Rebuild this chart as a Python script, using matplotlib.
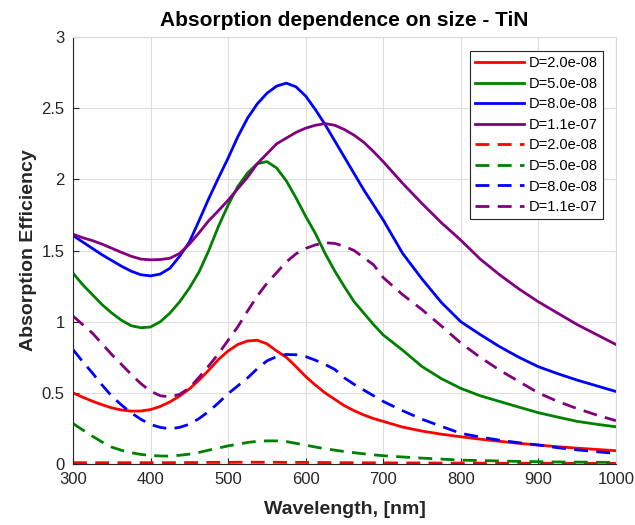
import matplotlib
matplotlib.use("Agg")
import matplotlib.pyplot as plt
from matplotlib.ticker import FuncFormatter

plt.rcParams['font.family'] = ['Liberation Sans', 'DejaVu Sans']

# Wavelength grid (nm)
wavelength = [300, 312.5, 325, 337.5, 350, 362.5, 375, 387.5, 400, 412.5, 425, 437.5,
              450, 462.5, 475, 487.5, 500, 512.5, 525, 537.5, 550, 562.5, 575, 587.5,
              600, 612.5, 625, 637.5, 650, 662.5, 675, 687.5, 700, 725, 750, 775,
              800, 825, 850, 875, 900, 925, 950, 975, 1000]

# Absorption efficiency, solid curves
abs_20 = [0.50, 0.47, 0.442, 0.417, 0.395, 0.38, 0.372, 0.373, 0.383, 0.405, 0.437, 0.478,
          0.528, 0.59, 0.66, 0.735, 0.795, 0.84, 0.865, 0.87, 0.845, 0.795, 0.75, 0.685,
          0.615, 0.555, 0.50, 0.455, 0.41, 0.375, 0.345, 0.32, 0.30, 0.26, 0.232, 0.21,
          0.192, 0.175, 0.16, 0.146, 0.134, 0.122, 0.112, 0.103, 0.094]
abs_50 = [1.341, 1.26, 1.19, 1.12, 1.061, 1.01, 0.972, 0.958, 0.963, 1.0, 1.061, 1.14,
          1.236, 1.35, 1.50, 1.67, 1.82, 1.95, 2.045, 2.11, 2.125, 2.08, 1.99, 1.87,
          1.74, 1.62, 1.48, 1.356, 1.245, 1.14, 1.06, 0.98, 0.907, 0.80, 0.685, 0.60,
          0.532, 0.48, 0.44, 0.40, 0.361, 0.33, 0.30, 0.28, 0.262]
abs_80 = [1.605, 1.56, 1.515, 1.47, 1.43, 1.39, 1.355, 1.33, 1.322, 1.335, 1.376, 1.46,
          1.56, 1.71, 1.865, 2.01, 2.15, 2.30, 2.43, 2.53, 2.605, 2.655, 2.676, 2.65,
          2.585, 2.49, 2.385, 2.27, 2.155, 2.04, 1.925, 1.82, 1.714, 1.48, 1.30, 1.135,
          1.00, 0.91, 0.825, 0.75, 0.684, 0.635, 0.59, 0.55, 0.51]
abs_110 = [1.615, 1.59, 1.57, 1.545, 1.516, 1.487, 1.46, 1.44, 1.435, 1.437, 1.446, 1.48,
           1.545, 1.625, 1.71, 1.78, 1.854, 1.935, 2.015, 2.11, 2.18, 2.25, 2.29, 2.33,
           2.36, 2.38, 2.392, 2.38, 2.35, 2.31, 2.26, 2.195, 2.124, 1.972, 1.83, 1.695,
           1.573, 1.44, 1.33, 1.23, 1.14, 1.06, 0.98, 0.91, 0.84]

# Absorption efficiency, dashed curves
abs_20_d = [0.010, 0.010, 0.010, 0.010, 0.010, 0.010, 0.010, 0.010, 0.010, 0.010, 0.010, 0.011,
            0.011, 0.011, 0.012, 0.012, 0.012, 0.013, 0.013, 0.013, 0.013, 0.013, 0.012, 0.012,
            0.012, 0.011, 0.011, 0.010, 0.010, 0.010, 0.009, 0.009, 0.009, 0.008, 0.008, 0.007,
            0.007, 0.007, 0.006, 0.006, 0.006, 0.006, 0.005, 0.005, 0.005]
abs_50_d = [0.285, 0.24, 0.196, 0.155, 0.119, 0.097, 0.08, 0.068, 0.061, 0.057, 0.056, 0.062,
            0.07, 0.082, 0.098, 0.113, 0.128, 0.14, 0.152, 0.16, 0.163, 0.163, 0.158, 0.146,
            0.133, 0.12, 0.108, 0.098, 0.088, 0.08, 0.072, 0.065, 0.059, 0.05, 0.042, 0.035,
            0.028, 0.025, 0.022, 0.019, 0.017, 0.015, 0.014, 0.013, 0.012]
abs_80_d = [0.804, 0.72, 0.64, 0.555, 0.477, 0.415, 0.36, 0.315, 0.278, 0.258, 0.248, 0.258,
            0.28, 0.32, 0.37, 0.43, 0.495, 0.55, 0.605, 0.67, 0.725, 0.755, 0.77, 0.768,
            0.755, 0.73, 0.70, 0.665, 0.605, 0.56, 0.52, 0.48, 0.44, 0.375, 0.315, 0.265,
            0.216, 0.19, 0.168, 0.15, 0.134, 0.115, 0.10, 0.087, 0.075]
abs_110_d = [1.04, 0.98, 0.92, 0.845, 0.769, 0.70, 0.63, 0.565, 0.512, 0.48, 0.472, 0.49,
             0.535, 0.61, 0.69, 0.775, 0.87, 0.965, 1.075, 1.18, 1.27, 1.345, 1.42, 1.477,
             1.515, 1.54, 1.555, 1.55, 1.53, 1.50, 1.45, 1.40, 1.31, 1.19, 1.085, 0.97,
             0.85, 0.75, 0.66, 0.58, 0.50, 0.44, 0.39, 0.345, 0.305]

labels = ["D=2.0e-08", "D=5.0e-08", "D=8.0e-08", "D=1.1e-07"]
colors = ["#ff0000", "#008000", "#0000ff", "#800080"]
solid = [abs_20, abs_50, abs_80, abs_110]
dashed = [abs_20_d, abs_50_d, abs_80_d, abs_110_d]

fig = plt.figure(figsize=(6.35, 5.25), dpi=100)
ax = fig.add_axes([0.115, 0.116, 0.855, 0.8135])

for y, c, lab in zip(solid, colors, labels):
    ax.plot(wavelength, y, color=c, lw=2, label=lab, solid_joinstyle='round')
for y, c, lab in zip(dashed, colors, labels):
    ax.plot(wavelength, y, color=c, lw=2, label=lab, dashes=(5, 3))

ax.set_xlim(300, 1000)
ax.set_ylim(0, 3)
ax.set_xticks(range(300, 1001, 100))
ax.set_yticks([0, 0.5, 1, 1.5, 2, 2.5, 3])
ax.yaxis.set_major_formatter(FuncFormatter(lambda v, p: f"{v:g}"))

dark = (0.15, 0.15, 0.15)
ax.grid(True, color=(0.87, 0.87, 0.87), lw=0.8)
ax.set_axisbelow(True)
ax.tick_params(direction='in', length=4, width=0.8, colors=dark, labelsize=12,
               labelcolor=dark, pad=6)
for s in ['left', 'bottom']:
    ax.spines[s].set_color(dark)
    ax.spines[s].set_linewidth(0.8)
for s in ['top', 'right']:
    ax.spines[s].set_color((0.85, 0.85, 0.85))
    ax.spines[s].set_linewidth(0.8)

ax.set_title("Absorption dependence on size - TiN", fontsize=15, fontweight='bold', pad=8)
ax.set_xlabel("Wavelength, [nm]", fontsize=14, fontweight='bold', color=dark, labelpad=10)
ax.set_ylabel("Absorption Efficiency", fontsize=14, fontweight='bold', color=dark, labelpad=3)

leg = ax.legend(loc='upper right', bbox_to_anchor=(0.976, 0.967), fontsize=10.5,
                frameon=True, fancybox=False, edgecolor=dark, framealpha=1,
                handlelength=3.4, handletextpad=0.3, labelspacing=0.45,
                borderpad=0.35, borderaxespad=0)
leg.get_frame().set_linewidth(0.8)

fig.savefig("out.png", dpi=100)
